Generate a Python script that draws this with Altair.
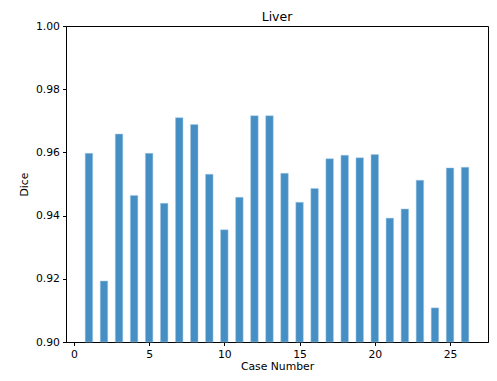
import altair as alt
import pandas as pd

cases = list(range(1, 27))
dice = [0.9597, 0.9193, 0.9658, 0.9464, 0.9597, 0.9439, 0.9710, 0.9688, 0.9531,
        0.9355, 0.9458, 0.9716, 0.9716, 0.9534, 0.9442, 0.9486, 0.9580, 0.9591,
        0.9583, 0.9593, 0.9392, 0.9421, 0.9512, 0.9108, 0.9551, 0.9553]
x_ticks = [0, 5, 10, 15, 20, 25]
y_ticks = [0.90, 0.92, 0.94, 0.96, 0.98, 1.00]
bar_half = 0.25
chart_title = "Liver"

W, H = 422, 316
df = pd.DataFrame({"case": cases, "dice": dice})

font = "DejaVu Sans"
bars = alt.Chart(df).transform_calculate(
    x0=f"datum.case - {bar_half}", x1=f"datum.case + {bar_half}"
).mark_bar(color="#458fc4", stroke="#a9cbe4", strokeWidth=0.5).encode(
    x=alt.X("x0:Q", title="Case Number",
            scale=alt.Scale(domain=[-0.525, 27.525], nice=False, zero=False),
            axis=alt.Axis(values=x_ticks, format="d", grid=False, domainColor="black",
                          tickColor="black", tickSize=3.5, labelFontSize=10.8, labelColor="black",
                          labelFont=font, titleFont=font, titleFontSize=10.8,
                          titleFontWeight="normal", titleColor="black", labelPadding=3,
                          titlePadding=1)),
    x2="x1:Q",
    y=alt.Y("dice:Q", title="Dice",
            scale=alt.Scale(domain=[0.9, 1.0], nice=False, zero=False),
            axis=alt.Axis(values=y_ticks, format=".2f", grid=False, domainColor="black",
                          tickColor="black", tickSize=3.5, labelFontSize=10.8, labelColor="black",
                          labelFont=font, titleFont=font, titleFontSize=10.8,
                          titleFontWeight="normal", titleColor="black", labelPadding=3,
                          titlePadding=6)),
    y2=alt.datum(0.9),
)

title = alt.Chart(pd.DataFrame({"t": [chart_title]})).mark_text(
    font=font, fontSize=12.5, color="black", baseline="alphabetic", align="center"
).encode(text="t:N", x=alt.value(W / 2), y=alt.value(-5.5))

chart = alt.layer(bars, title).properties(
    width=W, height=H,
    autosize=alt.AutoSizeParams(type="none"),
    padding={"left": 58, "top": 18, "right": 1, "bottom": 31},
).configure_view(stroke="black", strokeWidth=1)

chart.save("out.html", embed_options={"renderer": "svg", "actions": False})
